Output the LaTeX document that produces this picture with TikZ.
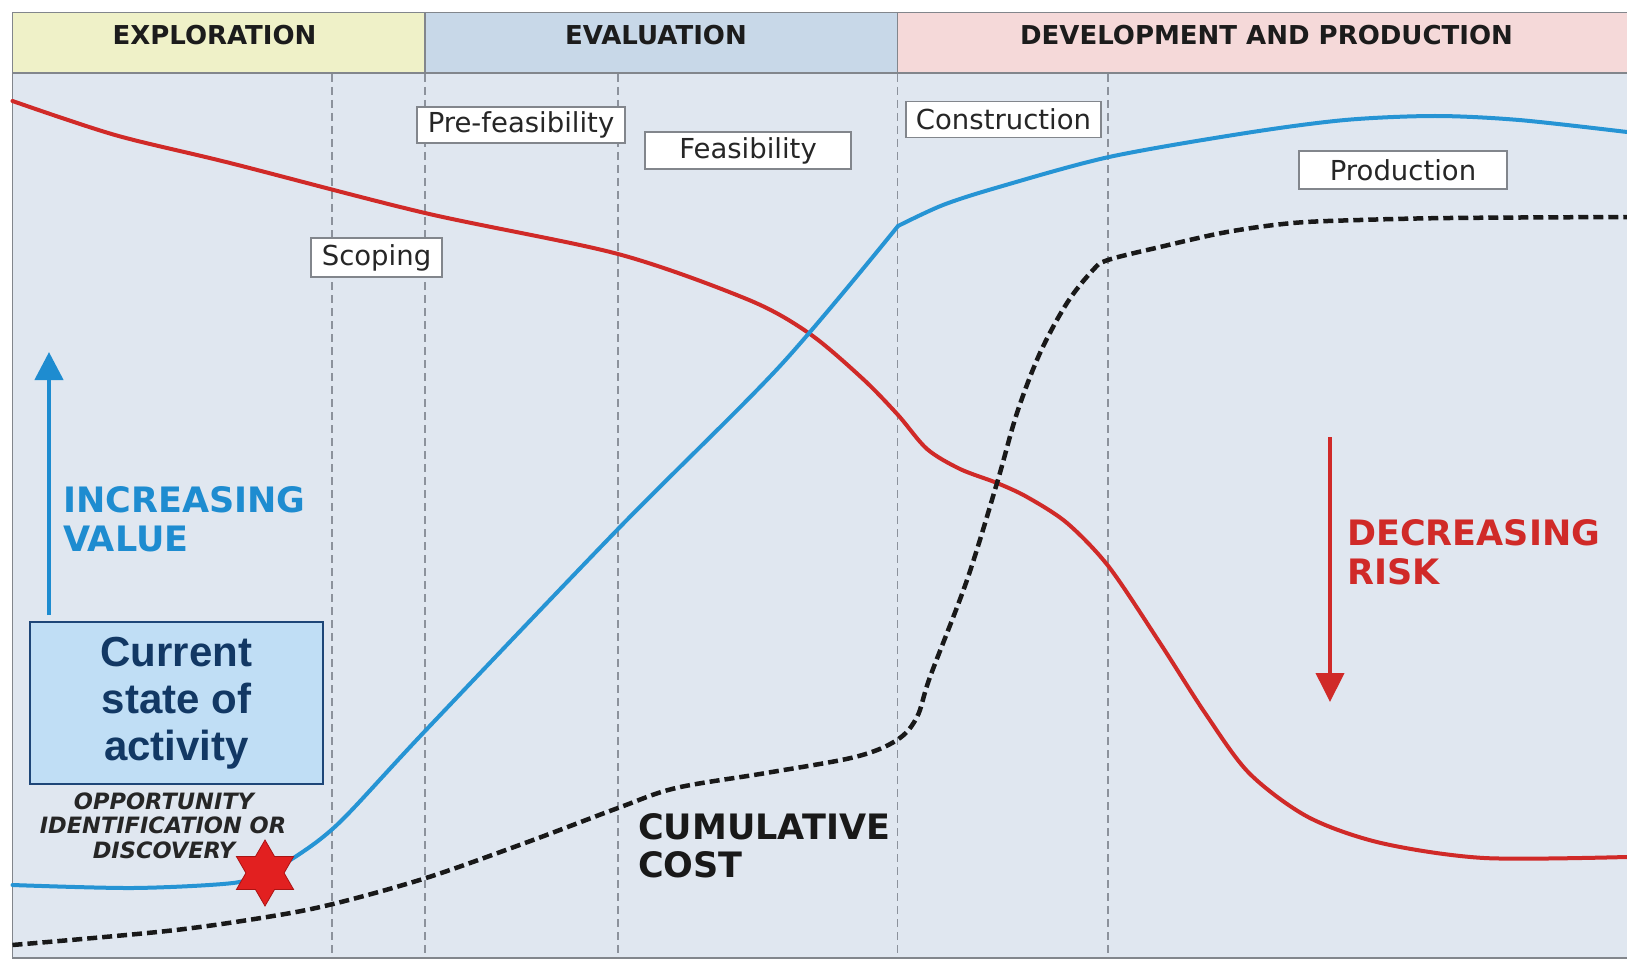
\documentclass[tikz,border=0pt]{standalone}
\usepackage{fontspec}
\setmainfont{DejaVu Sans}
\newfontfamily\arialfont{Liberation Sans}
\usetikzlibrary{arrows.meta,shapes.geometric}
\definecolor{bgc}{RGB}{224,231,240}
\definecolor{explc}{RGB}{239,241,200}
\definecolor{evalc}{RGB}{200,216,232}
\definecolor{devc}{RGB}{245,217,217}
\definecolor{framec}{RGB}{130,134,140}
\definecolor{vdashc}{RGB}{140,146,156}
\definecolor{riskred}{RGB}{208,42,40}
\definecolor{valblue}{RGB}{38,148,212}
\definecolor{txtblue}{RGB}{30,140,208}
\definecolor{curfill}{RGB}{192,222,245}
\definecolor{curdraw}{RGB}{30,70,120}
\definecolor{curtext}{RGB}{18,56,100}
\definecolor{hdrtext}{RGB}{28,28,28}
\definecolor{starred}{RGB}{226,32,32}
\definecolor{stardark}{RGB}{170,20,20}
\begin{document}
\begin{tikzpicture}[x=1pt,y=-1pt,
  hdr/.style={font=\fontsize{26}{30}\selectfont\bfseries, text=hdrtext, anchor=base, inner sep=0},
  lbl/.style={draw=framec, fill=white, line width=1.3, inner sep=0, font=\fontsize{27.5}{32}\selectfont, text=black!85},
  bigtxt/.style={font=\fontsize{35}{39}\selectfont\bfseries, anchor=base west, inner sep=0},
  opptxt/.style={font=\fontsize{22.5}{24}\selectfont\bfseries\itshape, text=black!85, anchor=base, inner sep=0},
  vdash/.style={draw=vdashc, line width=1.3, dash pattern=on 8pt off 5pt},
  riskline/.style={draw=riskred, line width=4, line cap=round},
  valline/.style={draw=valblue, line width=4, line cap=round, line join=round},
  costline/.style={draw=black!90, line width=4.5, dash pattern=on 10pt off 5pt}
]
\useasboundingbox (0,0) rectangle (1627,960);
\clip (0,0) rectangle (1627,960);
\fill[white] (0,0) rectangle (1627,960);
% plot area and header cells
\fill[bgc] (12.5,73) rectangle (1640,958);
\fill[explc] (12.5,12.5) rectangle (425,73);
\fill[evalc] (425,12.5) rectangle (897.5,73);
\fill[devc] (897.5,12.5) rectangle (1640,73);
\draw[framec, line width=1.6] (12.5,12.5) rectangle (1640,958);
\draw[framec, line width=1.6] (12.5,73) -- (1640,73);
\draw[framec, line width=1.2] (425,12.5) -- (425,73);
\draw[framec, line width=1.2] (897.5,12.5) -- (897.5,73);
% phase separators
\foreach \x in {332,425,618,897.5,1108} \draw[vdash] (\x,74) -- (\x,957);
% headers
\node[hdr] (hexp) at (214.5,45) {EXPLORATION};
\node[hdr] (heval) at (656,45) {EVALUATION};
\node[hdr] (hdev) at (1266.5,45) {DEVELOPMENT AND PRODUCTION};
% risk curve
\draw[riskline] plot[smooth, tension=0.5] coordinates {
 (12.5,101) (115,135) (230,163) (425,213) (618,254)
 (749,300) (810,334) (863,379) (898,415) (927,449) (960,469)
 (997,483) (1027,497) (1067,523) (1109,567) (1160,643) (1205,713)
 (1249,773) (1308,817) (1381,843) (1484,858) (1627,857)};
% value curve (kink at construction start)
\draw[valline] plot[smooth, tension=0.5] coordinates {
 (12.5,885) (133,888) (233,883) (265,872) (295,857) (340,822) (426,730)
 (620,527) (780,366) (898,226)};
\draw[valline] plot[smooth, tension=0.5] coordinates {
 (898,226) (943,205) (999,187) (1109,157) (1246,133) (1345,120) (1435,116)
 (1519,120) (1627,132)};
% cost curve
\draw[costline] plot[smooth, tension=0.55] coordinates {
 (12.5,945) (167,931) (267,917) (333,904) (426,878) (525,843)
 (618,808) (676,788) (766,773) (855,757) (897,740) (917,717) (930,677)
 (967,580) (997,483) (1017,413) (1040,353) (1067,303) (1093,270) (1108,260)
 (1160,247) (1227,232) (1293,223) (1360,220) (1450,218) (1627,217)};
% stage labels
\node[lbl, minimum width=208, minimum height=36] (pref) at (521,125) {Pre-feasibility};
\node[lbl, minimum width=206, minimum height=37] (feas) at (748,150.5) {Feasibility};
\node[lbl, minimum width=131, minimum height=39] (scop) at (376.5,257.5) {Scoping};
\node[lbl, minimum width=195, minimum height=36] (cons) at (1003.5,119.5) {Construction};
\node[lbl, minimum width=208, minimum height=38] (prod) at (1403,170) {Production};
% arrows
\coordinate (vbot) at (49,615);
\coordinate (vtop) at (49,352);
\draw[draw=txtblue, line width=4.5, -{Triangle[length=28pt,width=28pt]}] (vbot) -- (vtop);
\coordinate (rtop) at (1330,437);
\coordinate (rbot) at (1330,702);
\draw[draw=riskred, line width=4, -{Triangle[length=29pt,width=28pt]}] (rtop) -- (rbot);
% big labels
\node[bigtxt, text=txtblue] (inc1) at (63,512) {INCREASING};
\node[bigtxt, text=txtblue] (inc2) at (63,551) {VALUE};
\node[bigtxt, text=riskred] (dec1) at (1347,545) {DECREASING};
\node[bigtxt, text=riskred] (dec2) at (1347,584) {RISK};
\node[bigtxt, text=black!90] (cum1) at (638,839) {CUMULATIVE};
\node[bigtxt, text=black!90] (cum2) at (638,877) {COST};
% current state box
\node[draw=curdraw, fill=curfill, line width=1.6, minimum width=293, minimum height=162,
  align=center, text=curtext, font=\arialfont\bfseries\fontsize{42}{47}\selectfont, inner sep=0]
  (cur) at (176.5,703) {Current\\state of\\activity};
% opportunity text
\node[opptxt] (opp1) at (164,809) {OPPORTUNITY};
\node[opptxt] (opp2) at (163,833) {IDENTIFICATION OR};
\node[opptxt] (opp3) at (164,858) {DISCOVERY};
% star
\node[star, star points=6, star point ratio=1.73, minimum size=66, inner sep=0,
  fill=starred, draw=stardark, line width=0.8] (disc) at (265,873) {};
\end{tikzpicture}
\end{document}
